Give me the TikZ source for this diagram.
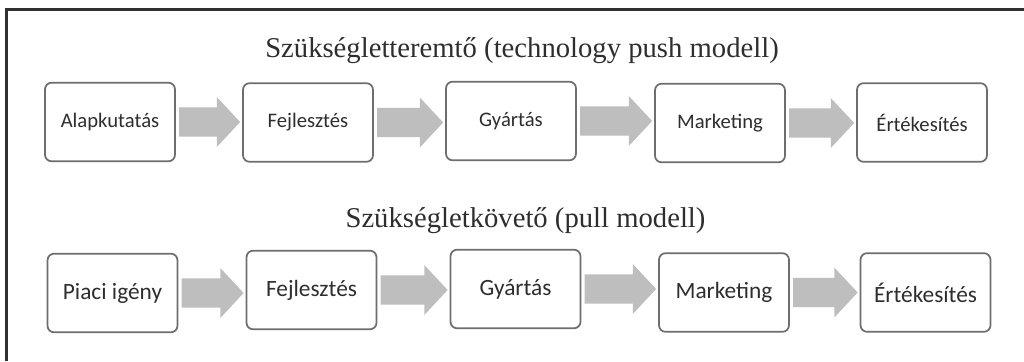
\documentclass[tikz,border=0pt]{standalone}
\usepackage{fontspec}
\setmainfont{Liberation Serif}
\newfontfamily\boxfont{Carlito}
\usetikzlibrary{calc}
\definecolor{framec}{HTML}{303030}
\definecolor{boxline}{HTML}{6E6E6E}
\definecolor{flowc}{HTML}{BEBEBE}
\definecolor{textc}{HTML}{2E2E2E}
\tikzset{
  stage/.style={draw=boxline, line width=1.3pt, rounded corners=5pt, fill=white,
    minimum width=97.5pt, minimum height=59pt, inner sep=0pt, text=textc},
  stageA/.style={stage, font=\boxfont\fontsize{15.5}{18}\selectfont},
  stageB/.style={stage, font=\boxfont\fontsize{17.5}{20}\selectfont},
  heading/.style={anchor=base, text=textc, font=\fontsize{21.5}{24}\selectfont, inner sep=0pt},
  flowfill/.style={fill=flowc, draw=none}
}
\newcommand\FlowArr[2]{%
  \fill[flowfill] let \p1=(#1.east), \p2=(#2.west) in
    (\x1+2.5pt,\y1+11pt) -- (\x2-19pt,\y1+11pt) -- (\x2-19pt,\y1+18.75pt) --
    (\x2-1.5pt,\y1) -- (\x2-19pt,\y1-18.75pt) -- (\x2-19pt,\y1-11pt) --
    (\x1+2.5pt,\y1-11pt) -- cycle;}
\begin{document}
\begin{tikzpicture}[x=0.75pt,y=-0.75pt]
\useasboundingbox (0,0) rectangle (1024,361);
\fill[white] (0,0) rectangle (1024,361);
\draw[framec, line width=1.6pt] (6.5,361) -- (6.5,9.5) -- (1024,9.5);

\node[heading] (t1) at (522,57) {Szükségletteremtő (technology push modell)};
\node[heading] (t2) at (525.5,227) {Szükségletkövető (pull modell)};

\node[stageA] (a1) at (110,122) {Alapkutatás};
\node[stageA] (b1) at (308,122.5) {Fejlesztés};
\node[stageA] (c1) at (511,121) {Gyártás};
\node[stageA] (d1) at (720,123) {Marketing};
\node[stageA] (e1) at (922,122.5) {Értékesítés};

\node[stageB] (a2) at (112.5,293) {Piaci igény};
\node[stageB] (b2) at (311.5,290) {Fejlesztés};
\node[stageB] (c2) at (515.5,289) {Gyártás};
\node[stageB] (d2) at (724,292.5) {Marketing};
\node[stageB] (e2) at (925.5,292.5) {Értékesítés};

\FlowArr{a1}{b1}
\FlowArr{b1}{c1}
\FlowArr{c1}{d1}
\FlowArr{d1}{e1}
\FlowArr{a2}{b2}
\FlowArr{b2}{c2}
\FlowArr{c2}{d2}
\FlowArr{d2}{e2}
\end{tikzpicture}
\end{document}
